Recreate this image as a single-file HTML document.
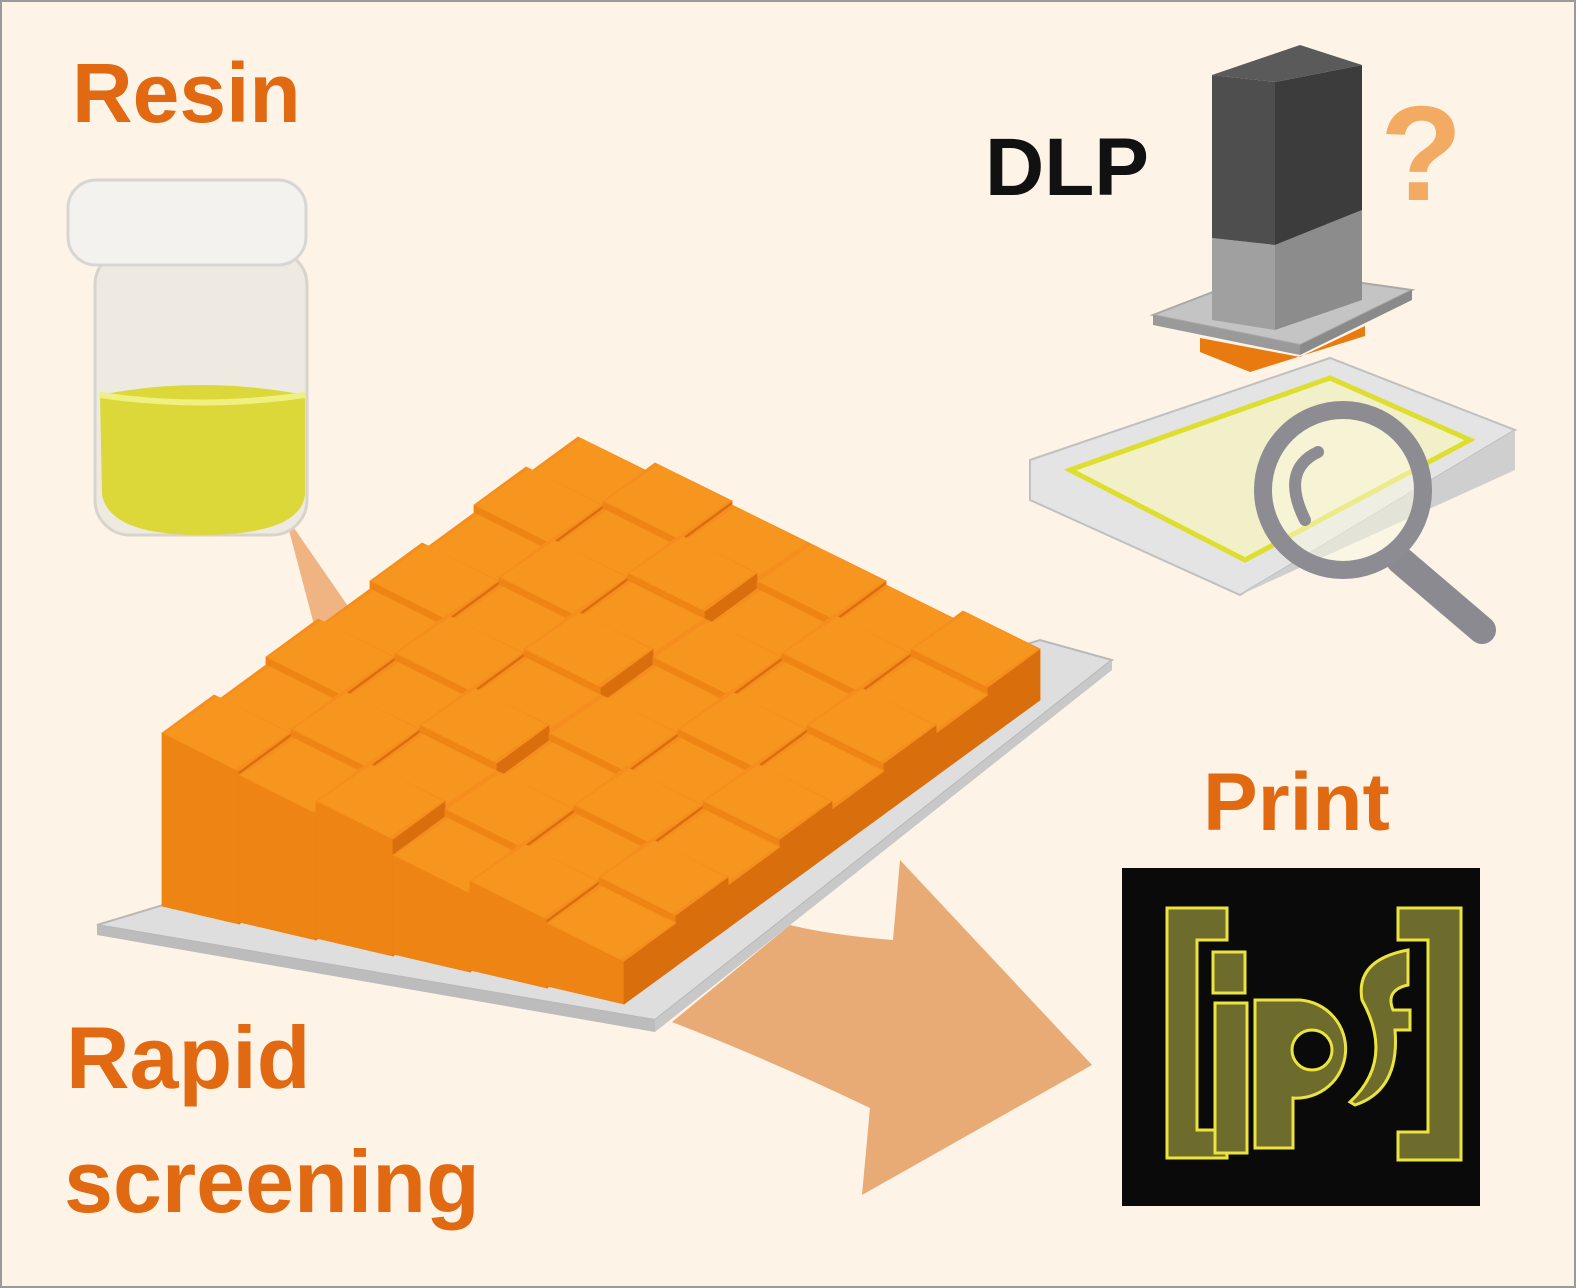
<!DOCTYPE html>
<html><head><meta charset="utf-8"><style>
html,body{margin:0;padding:0;background:#fdf3e6}
svg{display:block}
text{font-family:"Liberation Sans","DejaVu Sans",sans-serif;font-weight:bold}
</style></head><body>
<svg id="s" width="1576" height="1288" viewBox="0 0 1576 1288" xmlns="http://www.w3.org/2000/svg">
<rect x="1" y="1" width="1574" height="1286" fill="#fdf3e6" stroke="#9a9a9a" stroke-width="2"/>
<text x="72" y="122" font-size="84" fill="#e06912">Resin</text>
<text x="985" y="195" font-size="82" fill="#111">DLP</text>
<text x="1380" y="200" font-size="135" fill="#f3aa62">?</text>
<text x="1203" y="830" font-size="82" fill="#e06912">Print</text>
<text x="66" y="1088" font-size="88" fill="#e06912">Rapid</text>
<text x="64" y="1212" font-size="88" fill="#e06912">screening</text>

<polygon points="285,515 352,612 318,640" fill="#f0b483"/>
<rect x="95" y="250" width="212" height="285" rx="35" fill="#eeeae2" stroke="#d8d4cc" stroke-width="3"/>
<path d="M100,395 Q200,375 305,395 L305,495 Q300,535 200,535 Q110,535 102,495 Z" fill="#dcd83a"/>
<path d="M100,395 Q200,410 305,395" fill="none" stroke="#eef080" stroke-width="6"/>
<rect x="68" y="180" width="238" height="85" rx="28" fill="#f4f2ee" stroke="#d8d6d2" stroke-width="3"/>
<polygon points="1153,315 1270,270 1412,290 1300,345" fill="#c4c4c4" stroke="#a8a8a8" stroke-width="2"/>
<polygon points="1153,315 1300,345 1300,355 1153,325" fill="#9a9a9a"/>
<polygon points="1300,345 1412,290 1412,300 1300,355" fill="#8a8a8a"/>
<polygon points="1212,238 1275,245 1275,330 1212,320" fill="#a0a0a0"/>
<polygon points="1275,245 1362,210 1362,300 1275,330" fill="#8c8c8c"/>
<polygon points="1212,75 1275,82 1275,245 1212,238" fill="#4e4e4e"/>
<polygon points="1275,82 1362,65 1362,210 1275,245" fill="#3c3c3c"/>
<polygon points="1212,75 1300,45 1362,65 1275,82" fill="#5a5a5a"/>
<polygon points="1200,338 1300,357 1365,326 1365,336 1250,372 1200,352" fill="#e87a10"/>
<polygon points="1030,460 1330,358 1515,430 1240,595 1030,500" fill="#e4e4e4" stroke="#c0c0c0" stroke-width="2"/>
<polygon points="1070,470 1330,378 1470,440 1245,560" fill="#f2f0c8" stroke="#dede30" stroke-width="5"/>
<polygon points="1030,500 1240,595 1515,470 1515,430 1240,595" fill="#cfcfcf"/>
<line x1="1400" y1="560" x2="1482" y2="630" stroke="#8a8a90" stroke-width="28" stroke-linecap="round"/>
<circle cx="1343" cy="490" r="80" fill="rgba(250,248,225,0.5)" stroke="#8c8c92" stroke-width="18"/>
<path d="M1305,520 Q1280,470 1318,452" fill="none" stroke="#8c8c92" stroke-width="12" stroke-linecap="round"/>
<path d="M672,1022 Q770,1060 870,1108 L862,1195 L1092,1065 L900,860 L893,940 Q830,935 790,925 Z" fill="#e8ab75"/>
<polygon points="97,925 655,1020 1112,660 1040,640" fill="#dedede" stroke="#b8b8b8" stroke-width="2"/>
<polygon points="97,925 655,1020 655,1032 97,935" fill="#bcbcbc"/>
<polygon points="655,1020 1112,660 1112,670 655,1032" fill="#c8c8c8"/>
<g id="tiles"></g>
<rect x="1122" y="868" width="358" height="338" fill="#0a0a0a"/>
<g fill="#6e6c2c" stroke="#ece43e" stroke-width="3">
<path d="M1167,908 H1227 V940 H1197 V1130 H1227 V1158 H1167 Z"/>
<rect x="1213" y="952" width="32" height="41"/>
<rect x="1215" y="1003" width="32" height="150"/>
<path d="M1255,1000 H1300 A48,48 0 1 1 1293,1098 V1148 H1255 Z"/>
<circle cx="1312" cy="1050" r="20" fill="#0a0a0a"/>
<path d="M1350,1102 Q1395,1060 1362,1000 Q1355,960 1408,950 V985 Q1385,990 1393,1010 H1410 V1030 H1395 Q1400,1090 1355,1105 Z"/>
<path d="M1398,908 H1461 V1160 H1398 V1132 H1428 V940 H1398 Z"/>
</g>
<script>
(function(){
var g=document.getElementById('tiles');var NS='http://www.w3.org/2000/svg';
var O=[578,437],u=[77,38],v=[-52,38];
function P(i,j){return [O[0]+j*u[0]+i*v[0],O[1]+j*u[1]+i*v[1]];}
function poly(pts,f){var e=document.createElementNS(NS,'polygon');e.setAttribute('points',pts.map(function(p){return p[0].toFixed(1)+','+p[1].toFixed(1)}).join(' '));e.setAttribute('fill',f);e.setAttribute('stroke',f);e.setAttribute('stroke-width','0.8');g.appendChild(e);}
function G(j){return 165-22*j;}
function h(i,j){return ((i+j)%2)*8+((i*3+j)%3)*4;}
var list=[];for(var i=0;i<8;i++)for(var j=0;j<6;j++)list.push([i,j]);
list.sort(function(a,b){return (a[0]+a[1])-(b[0]+b[1])||a[1]-b[1]});
list.forEach(function(t){var i=t[0],j=t[1],d=h(i,j),gg=G(j)+d;
var a=P(i,j),b=P(i,j+1),c=P(i+1,j+1),e=P(i+1,j);
function up(p){return [p[0],p[1]-d];}
function dn(p,k){return [p[0],p[1]-d+k];}
poly([up(e),up(c),dn(c,gg-20),dn(e,gg)],'#ee8414');
poly([up(b),up(c),dn(c,gg-20),dn(b,gg-20)],'#d96e0c');
poly([up(a),up(b),up(c),up(e)],'#f58e1e');
poly([[up(a)[0]+4,up(a)[1]+2],[up(b)[0]-3,up(b)[1]],[up(c)[0]-4,up(c)[1]-2],[up(e)[0]+3,up(e)[1]]],'#f7961f');
});
})();
</script>
</svg>
</body></html>
